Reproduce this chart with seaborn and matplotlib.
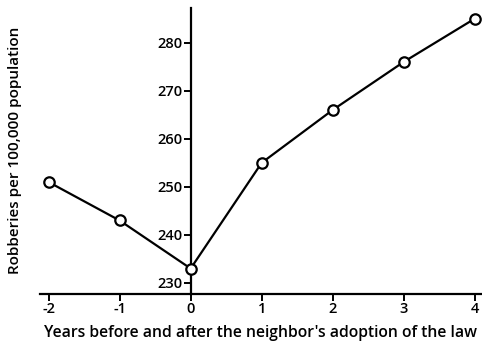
import matplotlib
matplotlib.use("Agg")
import matplotlib.pyplot as plt
import seaborn as sns
import pandas as pd

years = [-2, -1, 0, 1, 2, 3, 4]
robberies = [251, 243, 233, 255, 266, 276, 285]
y_ticks = [230, 240, 250, 260, 270, 280]
x_label = "Years before and after the neighbor's adoption of the law"
y_label = "Robberies per 100,000 population"

sns.set_theme(style="white")
plt.rcParams['font.family'] = ['Open Sans', 'DejaVu Sans']

df = pd.DataFrame({"year": years, "robberies": robberies})

fig = plt.figure(figsize=(4.82, 3.43), dpi=100)
ax = fig.add_axes([40/482, 1-294/343, 442/482, (294-8)/343])

sns.lineplot(data=df, x="year", y="robberies", ax=ax, color="black",
             linewidth=1.6, marker="o", markersize=7.5,
             markerfacecolor="white", markeredgecolor="black",
             markeredgewidth=1.6, zorder=5, clip_on=False)

ax.set_xlim(-2.12, 4.1)
ax.set_ylim(227.7, 287.2)
ax.set_xticks(years)
ax.set_xticklabels([str(v) for v in years])
ax.set_yticks(y_ticks)

ax.spines['left'].set_position(('data', 0))
ax.spines['right'].set_visible(False)
ax.spines['top'].set_visible(False)
for s in ['left', 'bottom']:
    ax.spines[s].set_color('black')
    ax.spines[s].set_linewidth(1.6)

ax.tick_params(axis='both', which='major', direction='out', length=5,
               width=1.4, color='black', labelsize=10.5, pad=1,
               left=True, bottom=True)
for lab in ax.get_xticklabels() + ax.get_yticklabels():
    lab.set_fontweight('semibold')
    lab.set_color('black')

ax.set_xlabel(x_label, fontsize=11.3, fontweight='semibold', color='black',
              labelpad=0)
ax.xaxis.set_label_coords(0.5, -0.11)
ax.set_ylabel("")
fig.text(15/482, 1-150/343, y_label, rotation=90, ha='center', va='center',
         fontsize=11, fontweight='semibold', color='black')

fig.savefig("out.png", dpi=100)
